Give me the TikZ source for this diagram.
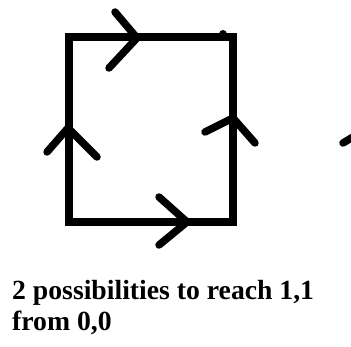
\documentclass[tikz,border=0pt]{standalone}
\usepackage{fontspec}
\setmainfont{Liberation Serif}
\begin{document}
\begin{tikzpicture}[x=1pt,y=-1pt,
  edge/.style={line width=8pt,line join=miter},
  chev/.style={line width=7.5pt,line cap=round,line join=round},
  lbl/.style={font=\bfseries\fontsize{27.7}{31}\selectfont,align=left,inner sep=0pt,anchor=base west}]
\useasboundingbox[fill=white] (0,0) rectangle (351,347);
\coordinate (A) at (69,222);
\coordinate (B) at (233,222);
\coordinate (C) at (233,37.5);
\coordinate (D) at (69,37.5);
\draw[edge] (A) -- (B) -- (C) -- (D) -- cycle;
% chevrons
\draw[chev] (115,12) -- (137,38) -- (109,68);
\draw[chev] (47,152) -- (68,128) -- (97,157);
\draw[chev] (205,132) -- (233,118) -- (255,143);
\draw[chev] (159,197) -- (187,222) -- (159,245);
\fill (223,34) circle (4);
\draw[chev] (343,143) -- (353,137);
\node[lbl] (t1) at (12,300) {2 possibilities to reach 1,1};
\node[lbl] (t2) at (12,331) {from 0,0};
\end{tikzpicture}
\end{document}
